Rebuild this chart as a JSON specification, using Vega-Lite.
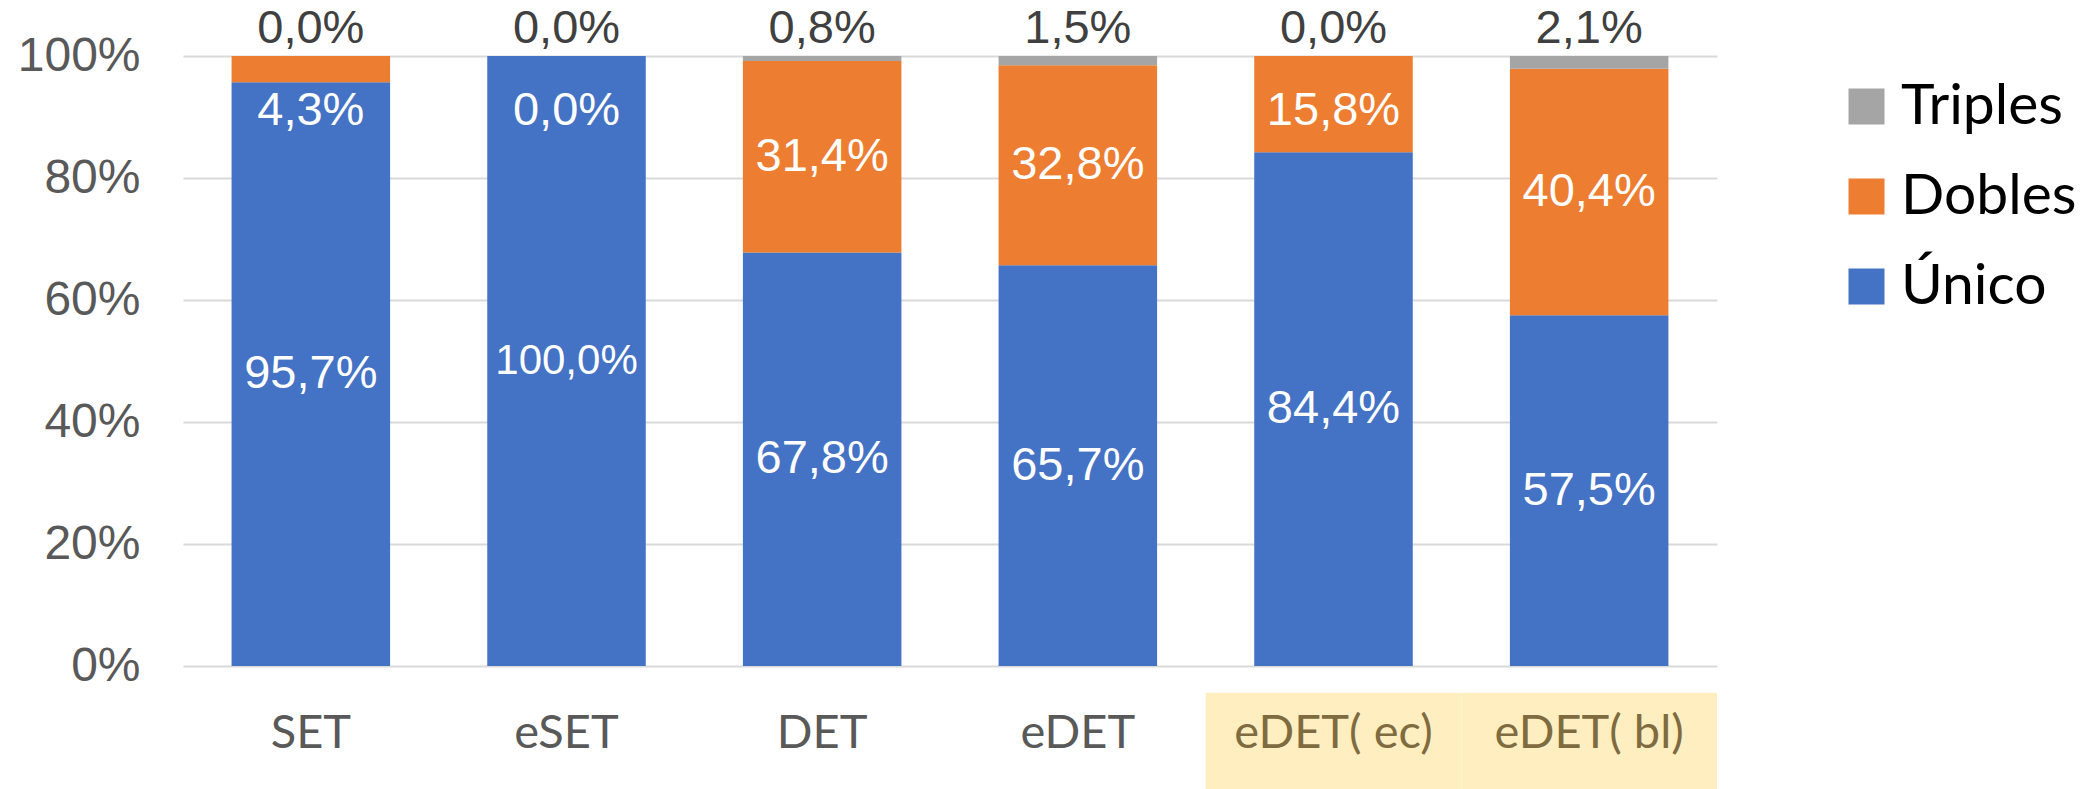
{
  "$schema": "https://vega.github.io/schema/vega-lite/v6.json",
  "width": 1534,
  "height": 610,
  "autosize": {"type": "none"},
  "padding": {"left": 183, "top": 56, "right": 381, "bottom": 123},
  "background": "white",
  "config": {
    "locale": {"number": {"decimal": ",", "thousands": ".", "grouping": [3], "currency": ["", " €"]}},
    "view": {"stroke": null}
  },
  "datasets": {
    "bars": [
      {"cat": "SET", "series": "Único", "v": 0.957},
      {"cat": "SET", "series": "Dobles", "v": 0.043},
      {"cat": "SET", "series": "Triples", "v": 0.0},
      {"cat": "eSET", "series": "Único", "v": 1.0},
      {"cat": "eSET", "series": "Dobles", "v": 0.0},
      {"cat": "eSET", "series": "Triples", "v": 0.0},
      {"cat": "DET", "series": "Único", "v": 0.678},
      {"cat": "DET", "series": "Dobles", "v": 0.314},
      {"cat": "DET", "series": "Triples", "v": 0.008},
      {"cat": "eDET", "series": "Único", "v": 0.657},
      {"cat": "eDET", "series": "Dobles", "v": 0.328},
      {"cat": "eDET", "series": "Triples", "v": 0.015},
      {"cat": "eDET( ec)", "series": "Único", "v": 0.844},
      {"cat": "eDET( ec)", "series": "Dobles", "v": 0.158},
      {"cat": "eDET( ec)", "series": "Triples", "v": 0.0},
      {"cat": "eDET( bl)", "series": "Único", "v": 0.575},
      {"cat": "eDET( bl)", "series": "Dobles", "v": 0.404},
      {"cat": "eDET( bl)", "series": "Triples", "v": 0.021}
    ],
    "band": [
      {"cat": "eDET( ec)"},
      {"cat": "eDET( bl)"}
    ]
  },
  "layer": [
    {
      "data": {"name": "band"},
      "mark": {"type": "rect", "color": "#FFEFC0", "clip": false},
      "encoding": {
        "x": {
          "field": "cat", "type": "nominal",
          "scale": {"domain": ["SET", "eSET", "DET", "eDET", "eDET( ec)", "eDET( bl)"], "paddingInner": 0, "paddingOuter": 0},
          "axis": {
            "title": null, "labelAngle": 0, "domain": false, "ticks": false, "tickSize": 0,
            "labelPadding": 67, "labelBaseline": "middle", "labelFont": "Lato", "labelFontSize": 47,
            "labelLimit": 0,
            "labelColor": {"condition": {"test": "indexof(['eDET( ec)','eDET( bl)'], datum.value) >= 0", "value": "#7F6B40"}, "value": "#595959"},
            "zindex": 2
          }
        },
        "y": {"datum": -0.044, "type": "quantitative"},
        "y2": {"datum": -0.203}
      }
    },
    {
      "data": {"name": "bars"},
      "transform": [
        {"calculate": "indexof(['Único','Dobles','Triples'], datum.series)", "as": "rank"},
        {"stack": "v", "groupby": ["cat"], "sort": [{"field": "rank", "order": "ascending"}], "offset": "normalize", "as": ["y0", "y1"]},
        {"calculate": "(datum.y0 + datum.y1) / 2", "as": "mid"},
        {"calculate": "datum.series == 'Dobles' ? min(datum.mid, 0.91) : datum.mid", "as": "ly"}
      ],
      "layer": [
        {
          "mark": {"type": "bar", "width": {"band": 0.62}},
          "encoding": {
            "x": {
              "field": "cat", "type": "nominal",
              "scale": {"domain": ["SET", "eSET", "DET", "eDET", "eDET( ec)", "eDET( bl)"], "paddingInner": 0, "paddingOuter": 0}
            },
            "y": {
              "field": "y0", "type": "quantitative",
              "scale": {"domain": [0, 1], "nice": false},
              "axis": {
                "title": null, "format": ".0%", "values": [0, 0.2, 0.4, 0.6, 0.8, 1],
                "domain": false, "ticks": false, "tickSize": 0, "labelPadding": 43,
                "labelFont": "Liberation Sans", "labelFontSize": 48, "labelColor": "#595959",
                "grid": true, "gridColor": "#D9D9D9", "gridWidth": 2, "zindex": 0
              }
            },
            "y2": {"field": "y1"},
            "color": {
              "field": "series", "type": "nominal",
              "scale": {"domain": ["Triples", "Dobles", "Único"], "range": ["#A5A5A5", "#ED7D31", "#4472C4"]},
              "legend": {
                "orient": "none", "legendX": 1655, "legendY": 22, "title": null,
                "symbolType": "square", "symbolSize": 1296, "symbolStrokeWidth": 0,
                "labelFont": "Lato", "labelFontSize": 57, "labelColor": "#000000", "labelLimit": 0,
                "rowPadding": 32, "labelOffset": 6, "padding": 0
              }
            }
          }
        },
        {
          "transform": [{"filter": "datum.series != 'Triples'"}],
          "mark": {"type": "text", "font": "Liberation Sans", "color": "#FFFFFF", "baseline": "middle", "align": "center"},
          "encoding": {
            "x": {"field": "cat", "type": "nominal"},
            "y": {"field": "ly", "type": "quantitative"},
            "text": {"field": "v", "type": "quantitative", "format": ".1%"},
            "size": {"condition": {"test": "datum.v >= 1", "value": 42}, "value": 47}
          }
        },
        {
          "transform": [{"filter": "datum.series == 'Triples'"}],
          "mark": {"type": "text", "font": "Liberation Sans", "fontSize": 47, "color": "#404040", "baseline": "middle", "align": "center", "dy": -27},
          "encoding": {
            "x": {"field": "cat", "type": "nominal"},
            "y": {"field": "y1", "type": "quantitative"},
            "text": {"field": "v", "type": "quantitative", "format": ".1%"}
          }
        }
      ]
    }
  ]
}
